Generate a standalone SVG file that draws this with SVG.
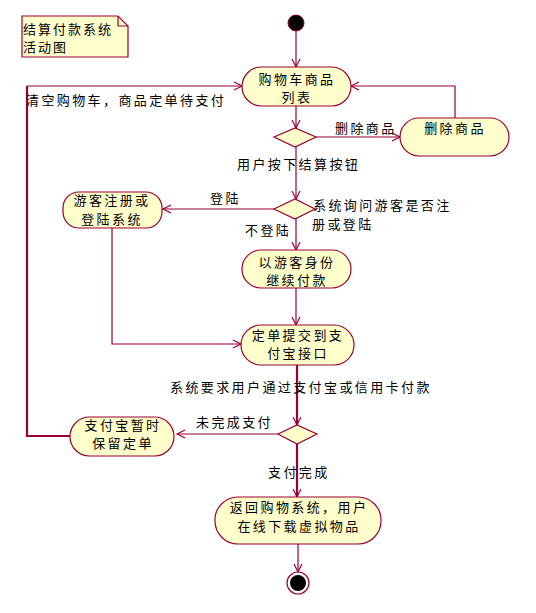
<svg xmlns="http://www.w3.org/2000/svg" width="536" height="613" viewBox="0 0 536 613">
<style>
.n{fill:#FFFFCC;stroke:#990033;stroke-width:1.2}
.c{fill:none;stroke:#990033;stroke-width:1.2}
.ct{fill:none;stroke:#990033;stroke-width:2.2}
text{font-family:"Noto Sans CJK SC","Liberation Sans",sans-serif;font-size:13px;fill:#000;letter-spacing:2.4px}
.m{text-anchor:middle}
</style>
<defs>
<marker id="a" markerUnits="userSpaceOnUse" markerWidth="12" markerHeight="12" refX="9" refY="5" orient="auto">
<path d="M1,1 L9,5 L1,9" fill="none" stroke="#990033" stroke-width="1.2"/>
</marker>
</defs>
<rect width="536" height="613" fill="#fff"/>
<g id="note">
<path class="n" d="M22,16 H118 L128,26 V57 H22 Z"/>
<path class="c" d="M118,16 V26 H128"/>
<text x="23" y="34" style="letter-spacing:2px">结算付款系统</text>
<text x="23" y="52" style="letter-spacing:2px">活动图</text>
</g>
<g id="connectors">
<path class="c" d="M296,31 V67" marker-end="url(#a)"/>
<path class="c" d="M296,106 V128" marker-end="url(#a)"/>
<path class="c" d="M316,137 H400" marker-end="url(#a)"/>
<path class="c" d="M455,118 V86 H351" marker-end="url(#a)"/>
<path class="c" d="M296,147 V199" marker-end="url(#a)"/>
<path class="c" d="M274,209 H163" marker-end="url(#a)"/>
<path class="c" d="M296,219 V250" marker-end="url(#a)"/>
<path class="c" d="M296,288 V325" marker-end="url(#a)"/>
<path class="c" d="M112,228 V344 H241" marker-end="url(#a)"/>
<path class="ct" d="M297,365 V425" marker-end="url(#a)"/>
<path class="c" d="M278,434 H177" marker-end="url(#a)"/>
<path class="ct" d="M297,444 V497" marker-end="url(#a)"/>
<path class="ct" d="M70,436 H27 V86" />
<path class="c" d="M27,86 H242" marker-end="url(#a)"/>
<path class="c" d="M298,544 V572" marker-end="url(#a)"/>
<text x="26" y="105">清空购物车，商品定单待支付</text>
<text x="335" y="133">删除商品</text>
<text x="237" y="169">用户按下结算按钮</text>
<text x="210" y="203">登陆</text>
<text x="313" y="210">系统询问游客是否注</text>
<text x="312" y="229">册或登陆</text>
<text x="245" y="235">不登陆</text>
<text x="170" y="392">系统要求用户通过支付宝或信用卡付款</text>
<text x="196" y="427">未完成支付</text>
<text x="268" y="477">支付完成</text>
</g>
<g id="start"><circle cx="296" cy="23" r="8" fill="#000" stroke="#990033" stroke-width="1"/></g>
<g id="cartList">
<rect class="n" x="242" y="67" width="109" height="39" rx="19.5"/>
<text class="m" x="297" y="84">购物车商品</text>
<text class="m" x="297" y="102">列表</text>
</g>
<g id="d1"><path class="n" d="M274,137 L295,128 L316,137 L295,147 Z"/></g>
<g id="delete">
<rect class="n" x="400" y="118" width="109" height="38" rx="19"/>
<text class="m" x="455" y="133">删除商品</text>
</g>
<g id="d2"><path class="n" d="M274,209 L295,199 L315,209 L295,219 Z"/></g>
<g id="register">
<rect class="n" x="63" y="192" width="99" height="36" rx="16"/>
<text class="m" x="112" y="205">游客注册或</text>
<text class="m" x="112" y="224">登陆系统</text>
</g>
<g id="guest">
<rect class="n" x="242" y="250" width="109" height="38" rx="19"/>
<text class="m" x="297" y="267">以游客身份</text>
<text class="m" x="297" y="285">继续付款</text>
</g>
<g id="submit">
<rect class="n" x="241" y="325" width="113" height="40" rx="20"/>
<text class="m" x="298" y="340">定单提交到支</text>
<text class="m" x="298" y="358">付宝接口</text>
</g>
<g id="d3"><path class="n" d="M278,434 L297,425 L317,434 L297,444 Z"/></g>
<g id="hold">
<rect class="n" x="70" y="417" width="104" height="39" rx="19.5"/>
<text class="m" x="123" y="430">支付宝暂时</text>
<text class="m" x="123" y="448">保留定单</text>
</g>
<g id="download">
<rect class="n" x="215" y="497" width="166" height="47" rx="23"/>
<text class="m" x="299" y="512">返回购物系统，用户</text>
<text class="m" x="299" y="531">在线下载虚拟物品</text>
</g>
<g id="end">
<circle cx="298" cy="583" r="11" fill="#fff" stroke="#990033" stroke-width="1.2"/>
<circle cx="298" cy="583" r="8" fill="#000"/>
</g>
</svg>
